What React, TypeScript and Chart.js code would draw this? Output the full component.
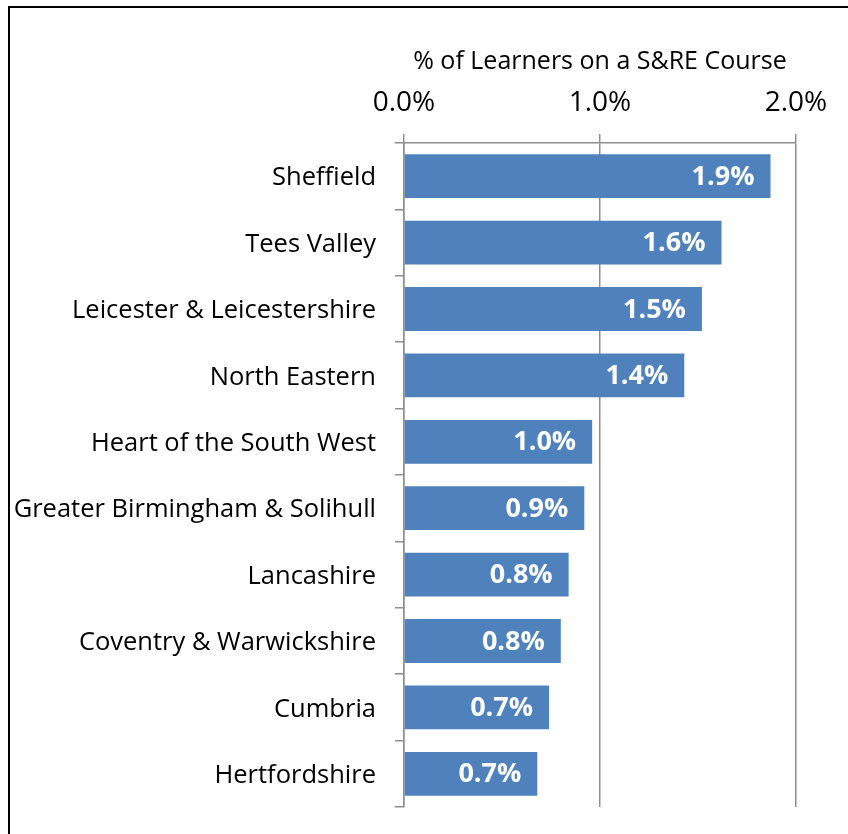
import React, { useEffect, useRef } from "react";
import { Chart, registerables } from "chart.js";

Chart.register(...registerables);

const categories = [
  "Sheffield",
  "Tees Valley",
  "Leicester & Leicestershire",
  "North Eastern",
  "Heart of the South West",
  "Greater Birmingham & Solihull",
  "Lancashire",
  "Coventry & Warwickshire",
  "Cumbria",
  "Hertfordshire",
];
const values = [1.87, 1.62, 1.52, 1.43, 0.96, 0.92, 0.84, 0.8, 0.74, 0.68];
const valueLabels = ["1.9%", "1.6%", "1.5%", "1.4%", "1.0%", "0.9%", "0.8%", "0.8%", "0.7%", "0.7%"];
const axisTitle = "% of Learners on a S&RE Course";

const FONT = "'Open Sans', sans-serif";
const GRID = "#8e8e8e";

const valueLabelPlugin = {
  id: "valueLabels",
  afterDatasetsDraw(chart: any) {
    const ctx = chart.ctx;
    const meta = chart.getDatasetMeta(0);
    ctx.save();
    ctx.fillStyle = "#ffffff";
    ctx.font = `bold 27px ${FONT}`;
    ctx.textAlign = "right";
    ctx.textBaseline = "middle";
    meta.data.forEach((bar: any, i: number) => {
      ctx.fillText(valueLabels[i], bar.x - 16, bar.y + 1);
    });
    ctx.restore();
  },
};

export default function App() {
  const ref = useRef<HTMLCanvasElement>(null);
  useEffect(() => {
    if (!ref.current) return;
    const chart = new Chart(ref.current, {
      type: "bar",
      data: {
        labels: categories,
        datasets: [
          {
            data: values,
            backgroundColor: "#4F81BD",
            borderWidth: 0,
            barPercentage: 0.66,
            categoryPercentage: 1,
          },
        ],
      },
      options: {
        indexAxis: "y",
        responsive: false,
        animation: false,
        devicePixelRatio: 1,
        layout: { padding: { top: 43, right: 52, bottom: 27, left: 0 } },
        plugins: { legend: { display: false }, tooltip: { enabled: false } },
        scales: {
          x: {
            position: "top",
            min: 0,
            max: 2,
            afterFit: (s: any) => {
              s.height = 143 - 43;
              s.paddingLeft = 0;
              s.paddingRight = 0;
            },
            ticks: {
              stepSize: 1,
              color: "#000",
              font: { family: FONT, size: 28 },
              padding: 14,
              callback: (v: any) => Number(v).toFixed(1) + "%",
            },
            grid: { color: GRID, lineWidth: 1.5, tickLength: 9, drawTicks: true },
            border: { color: GRID, width: 1.5 },
            title: {
              display: true,
              text: axisTitle,
              color: "#000",
              font: { family: FONT, size: 25 },
              padding: { top: 4, bottom: 4 },
            },
          },
          y: {
            afterFit: (s: any) => {
              s.width = 404;
              s.paddingTop = 0;
              s.paddingBottom = 0;
            },
            ticks: {
              color: "#000",
              font: { family: FONT, size: 25.5 },
              padding: 19,
              labelOffset: 2,
            },
            grid: { offset: true, drawOnChartArea: false, color: GRID, lineWidth: 1.5, tickLength: 9 },
            border: { color: GRID, width: 1.5 },
          },
        },
      },
      plugins: [valueLabelPlugin],
    });
    return () => chart.destroy();
  }, []);

  return (
    <>
      <div
        style={{
          position: "fixed",
          left: 8,
          top: 6,
          width: 900,
          height: 900,
          borderLeft: "2px solid #000",
          borderTop: "2px solid #000",
        }}
      />
      <canvas
        ref={ref}
        width={848}
        height={834}
        style={{ position: "fixed", left: 0, top: 0, width: 848, height: 834 }}
      />
    </>
  );
}
